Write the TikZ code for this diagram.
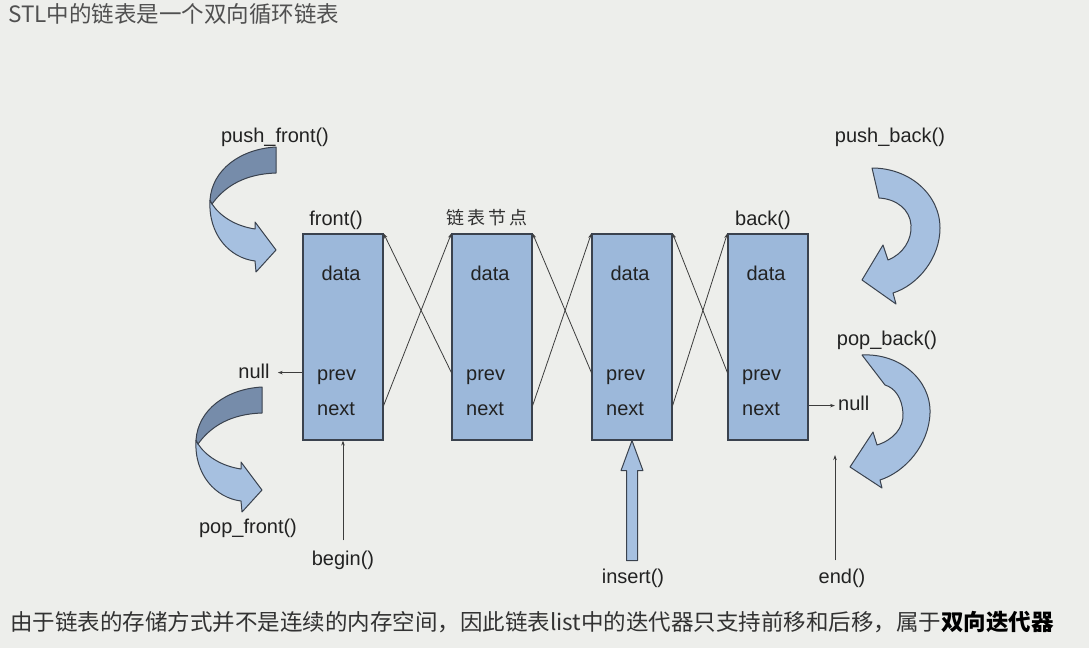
\documentclass[tikz,border=0pt]{standalone}
\usepackage{fontspec}
\setmainfont{Liberation Sans}
\newfontfamily\cjk{Noto Sans CJK SC}
\newfontfamily\cjkspaced[LetterSpace=15]{Noto Sans CJK SC}
\usetikzlibrary{arrows.meta}
\definecolor{bg}{RGB}{237,238,235}
\definecolor{boxfill}{RGB}{156,184,218}
\definecolor{boxline}{RGB}{58,66,78}
\definecolor{darkarr}{RGB}{118,140,170}
\definecolor{lightarr}{RGB}{166,192,224}
\definecolor{linec}{RGB}{60,60,60}
\definecolor{txt}{RGB}{34,34,34}
\definecolor{titlegray}{RGB}{80,80,80}
\definecolor{notegray}{RGB}{50,50,50}
\begin{document}
\begin{tikzpicture}[x=1pt,y=-1pt,
  lbl/.style={font=\fontsize{20}{24}\selectfont, text=txt, inner sep=0pt, anchor=base},
  botlbl/.style={lbl, inner ysep=8pt},
  nodebox/.style={draw=boxline, line width=1.2pt, fill=boxfill, minimum width=80pt, minimum height=206pt, inner sep=0pt},
  link/.style={draw=linec, line width=0.8pt, -{Stealth[length=5pt,width=3.5pt]}},
  arrowlight/.style={fill=lightarr, draw=boxline, line width=1pt, line join=round},
  arrowdark/.style={fill=darkarr, draw=boxline, line width=1pt, line join=round},
]
\fill[bg] (0,0) rectangle (1089,648);
\useasboundingbox (0,0) rectangle (1089,648);

% title and note
\node[anchor=base west, inner sep=0pt, text=titlegray, font=\cjk\fontsize{22.5}{26}\selectfont] (title) at (8,22) {STL中的链表是一个双向循环链表};
\node[anchor=base west, inner sep=0pt, text=notegray, font=\cjk\fontsize{22.5}{26}\selectfont] (note) at (10,630) {由于链表的存储方式并不是连续的内存空间，因此链表list中的迭代器只支持前移和后移，属于{\bfseries\color{black}双向迭代器}};

% boxes
\node[nodebox] (b1) at (343,337) {};
\node[nodebox] (b2) at (492,337) {};
\node[nodebox] (b3) at (632,337) {};
\node[nodebox] (b4) at (768,337) {};
\foreach \b/\x in {1/343,2/492,3/632,4/768} {
  \node[lbl] (d\b) at (\x-2,280) {data};
  \node[lbl, anchor=base west] (p\b) at (\x-26,380) {prev};
  \node[lbl, anchor=base west] (n\b) at (\x-26,415) {next};
}

% links
\foreach \a/\b in {1/2,2/3,3/4} {
  \draw[link] ([yshift=35pt]b\a.south east) -- (b\b.north west);
  \draw[link] ([yshift=68pt]b\b.south west) -- (b\a.north east);
}

% top labels
\node[lbl] (front) at (336,225) {front()};
\node[lbl, text=notegray, font=\cjkspaced\fontsize{18}{22}\selectfont] (nodelbl) at (487,224) {链表节点};
\node[lbl] (back) at (763,225) {back()};
\node[lbl] (pushfront) at (275,142) {push\_front()};
\node[lbl] (pushback) at (890,142) {push\_back()};
\node[lbl] (popback) at (887,345) {pop\_back()};
\node[lbl] (popfront) at (248,533) {pop\_front()};

% nulls
\node[lbl, inner xsep=8pt] (nullL) at (254,378) {null};
\coordinate (p1w) at ([yshift=68pt]b1.south west);
\draw[link] (p1w) -- (p1w -| nullL.east);
\node[lbl, anchor=base west, inner xsep=3pt] (nullR) at (835,410) {null};
\coordinate (n4e) at ([yshift=35pt]b4.south east);
\draw[link] (n4e) -- (n4e -| nullR.west);

% bottom labels and arrows
\node[botlbl, inner ysep=10pt] (begin) at (343,565) {begin()};
\draw[link] (begin.north) -- (b1.south);
\node[botlbl] (insert) at (633,583) {insert()};
\begin{scope}[shift={(b3.south)}]
  \draw[arrowlight] (-5.5,120) -- (-5.5,30) -- (-11,30) -- (0,0) -- (11,30) -- (5.5,30) -- (5.5,120) -- cycle;
\end{scope}
\node[botlbl] (end) at (842,583) {end()};
\coordinate (endtip) at (835,455);
\draw[link] (end.north -| endtip) -- (endtip);

% push_front curved arrow
\draw[arrowlight] (210,200) .. controls (208,235) and (230,258) .. (255,261) -- (256,272) -- (276,250) -- (255,222) -- (255,229) .. controls (235,226) and (220,216) .. (212,204) -- cycle;
\draw[arrowdark] (276,147) .. controls (240,149) and (212,170) .. (210,200) -- (212,204) .. controls (225,186) and (245,174) .. (276,173) -- cycle;

% pop_front curved arrow
\begin{scope}[shift={(-14,240)}]
\draw[arrowlight] (210,200) .. controls (208,235) and (230,258) .. (255,261) -- (256,272) -- (276,250) -- (255,222) -- (255,229) .. controls (235,226) and (220,216) .. (212,204) -- cycle;
\draw[arrowdark] (276,147) .. controls (240,149) and (212,170) .. (210,200) -- (212,204) .. controls (225,186) and (245,174) .. (276,173) -- cycle;
\end{scope}

% push_back curved arrow
\draw[arrowlight] (872,168) .. controls (910,168) and (940,195) .. (940,228) .. controls (940,258) and (918,285) .. (893,293) -- (896,304) -- (862,280) -- (883,245) -- (888,260) .. controls (903,254) and (912,240) .. (911,225) .. controls (910,210) and (897,199) .. (879,198) -- cycle;

% pop_back curved arrow
\draw[arrowlight] (862,355) .. controls (900,353) and (931,380) .. (930,413) .. controls (929,445) and (905,472) .. (880,480) -- (882,488) -- (850,467) -- (873,432) -- (877,445) .. controls (893,440) and (904,428) .. (903,413) .. controls (902,398) and (895,388) .. (885,385) -- cycle;
\end{tikzpicture}
\end{document}
